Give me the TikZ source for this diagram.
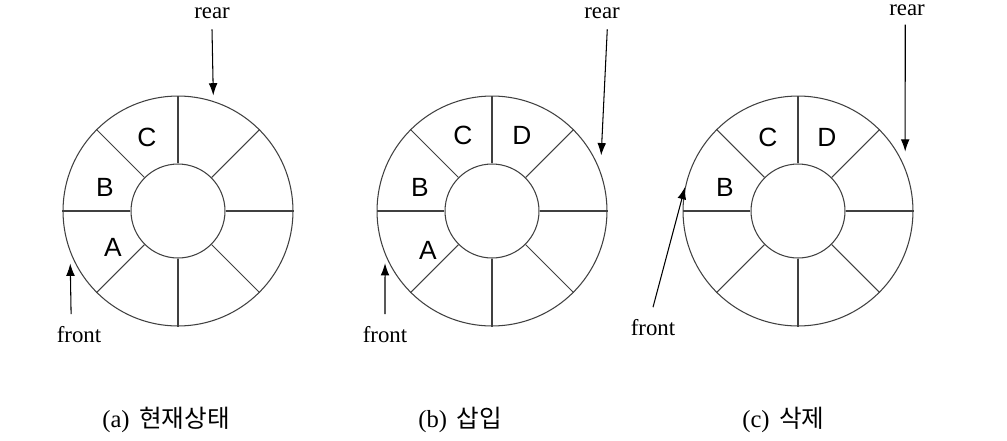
\documentclass[tikz,border=0pt]{standalone}
\usepackage{fontspec}
\setmainfont{Liberation Serif}
\newfontfamily\cellfont{Liberation Sans}
\newfontfamily\korfont{Noto Sans CJK KR}
\usetikzlibrary{arrows.meta}
\tikzset{
  ring/.style={draw=black!75, line width=0.6pt, circle, inner sep=0pt},
  cell/.style={font=\cellfont\fontsize{15}{18}\selectfont},
  ptr/.style={font=\fontsize{13}{15}\selectfont, inner sep=1pt},
  ptrarrow/.style={-{Latex[length=7pt,width=5pt]}, line width=0.6pt},
  subcap/.style={font=\fontsize{14}{16}\selectfont, anchor=west, inner sep=0pt}
}

\begin{document}
\begin{tikzpicture}[x=0.02cm, y=-0.02cm]
\useasboundingbox (0,0) rectangle (1007,440);
% the three queues
\foreach \nm/\cx in {a/178, b/492, c/798} {
  \node[ring, minimum size=4.6cm] (o\nm) at (\cx,211) {};
  \node[ring, minimum size=1.88cm] (i\nm) at (\cx,211) {};
  \foreach \ang in {0,45,...,315}
    \draw[black!75, line width=0.6pt] (i\nm.\ang) -- (o\nm.\ang);
}
% (a)
\node[cell] (ca) at (147,137) {C};
\node[cell] (ba) at (105,187) {B};
\node[cell] (aa) at (113,247) {A};
\node[ptr] (reara) at (212,13) {rear};
\node[ptr] (fronta) at (79,335) {front};
\draw[ptrarrow] ([yshift=-5pt]reara.south) -- ([shift={(73:3pt)}]oa.73);
\draw[ptrarrow] ([shift={(-4.5pt,6pt)}]fronta.north) -- ([shift={(206:2.5pt)}]oa.206);
% (b)
\node[cell] (cb) at (463,135) {C};
\node[cell] (db) at (522,135) {D};
\node[cell] (bb) at (420,187) {B};
\node[cell] (ab) at (428,250) {A};
\node[ptr] (rearb) at (602,13) {rear};
\node[ptr] (frontb) at (385,335) {front};
\draw[ptrarrow] ([shift={(3pt,-5pt)}]rearb.south) -- ([shift={(27:4pt)}]ob.27);
\draw[ptrarrow] ([yshift=6pt]frontb.north) -- ([shift={(206:2pt)}]ob.206);
% (c)
\node[cell] (cc) at (768,137) {C};
\node[cell] (dc) at (827,137) {D};
\node[cell] (bc) at (725,187) {B};
\node[ptr] (rearc) at (907,10) {rear};
\node[ptr] (frontc) at (653,328) {front};
\draw[ptrarrow] ([shift={(-1pt,-4pt)}]rearc.south) -- ([shift={(29:4pt)}]oc.29);
\draw[ptrarrow] ([yshift=6pt]frontc.north) -- (oc.168);
% captions
\node[subcap] (capa) at (102,420) {(a)\hspace{5.5pt}{\korfont 현재상태}};
\node[subcap] (capb) at (418,420) {(b)\hspace{5.5pt}{\korfont 삽입}};
\node[subcap] (capc) at (742,420) {(c)\hspace{5.5pt}{\korfont 삭제}};
\end{tikzpicture}
\end{document}
